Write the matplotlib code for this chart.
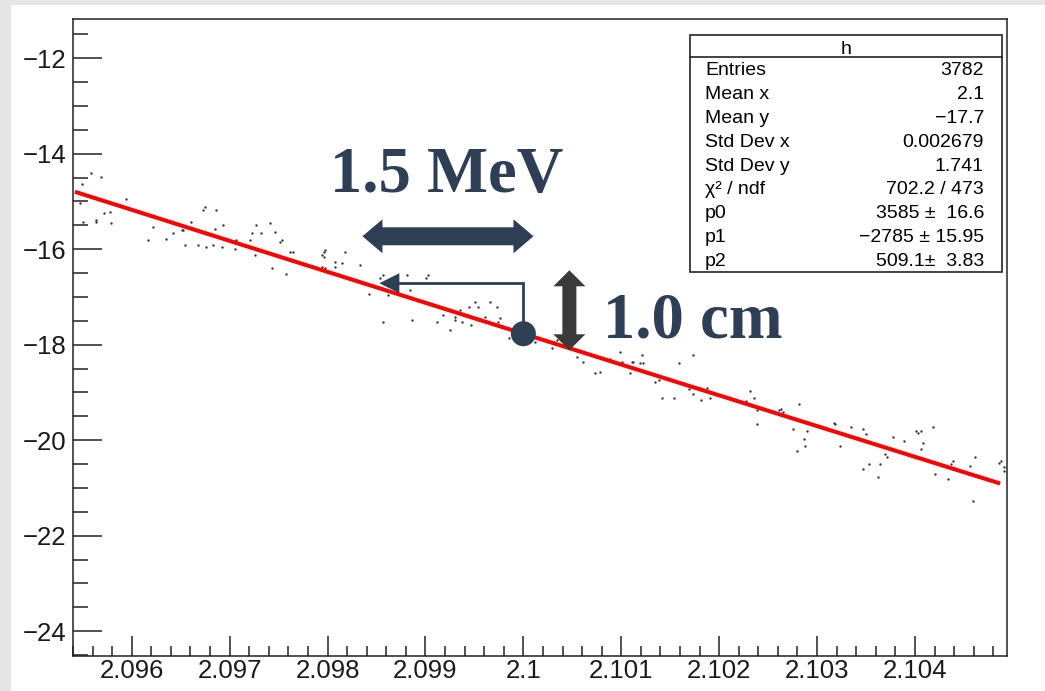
import numpy as np
import matplotlib
matplotlib.use("Agg")
import matplotlib.pyplot as plt
from matplotlib.patches import Polygon, Circle, Rectangle
from matplotlib.lines import Line2D
from matplotlib import transforms as mtransforms
from matplotlib.ticker import MultipleLocator, FixedLocator, FixedFormatter

plt.rcParams['font.family'] = ['Liberation Sans', 'DejaVu Sans']

# ---- scatter content of the 2D histogram "h" ----
x_points = [
    2.09558, 2.09569, 2.09549, 2.09547, 2.09550, 2.09564, 2.09564, 2.09572, 2.09578, 2.09579,
    2.09594, 2.09617, 2.09622, 2.09635, 2.09642, 2.09651, 2.09652, 2.09654, 2.09661, 2.09668,
    2.09673, 2.09675, 2.09686, 2.09675, 2.09676, 2.09683, 2.09685, 2.09692, 2.09693, 2.09705,
    2.09707, 2.09721, 2.09723, 2.09727, 2.09726, 2.09732, 2.09741, 2.09746, 2.09751, 2.09753,
    2.09743, 2.09758, 2.09762, 2.09765, 2.09794, 2.09796, 2.09797, 2.09796, 2.09794, 2.09797,
    2.09808, 2.09808, 2.09815, 2.09818, 2.09833, 2.09842, 2.09854, 2.09857, 2.09862, 2.09881,
    2.09884, 2.09901, 2.09903, 2.09857, 2.09886, 2.09912, 2.09918, 2.09925, 2.09930, 2.09930,
    2.09935, 2.09937, 2.09944, 2.09947, 2.09951, 2.09954, 2.09961, 2.09966, 2.09973, 2.09974,
    2.09976, 2.09985, 2.10009, 2.10012, 2.10031, 2.10034, 2.10029, 2.10055, 2.10061, 2.10073,
    2.10078, 2.10089, 2.10099, 2.10101, 2.10111, 2.10112, 2.10109, 2.10119, 2.10122, 2.10121,
    2.10134, 2.10139, 2.10142, 2.10154, 2.10159, 2.10173, 2.10169, 2.10173, 2.10180, 2.10181,
    2.10188, 2.10191, 2.10227, 2.10232, 2.10236, 2.10239, 2.10239, 2.10261, 2.10263, 2.10265,
    2.10275, 2.10282, 2.10287, 2.10288, 2.10280, 2.10290, 2.10317, 2.10318, 2.10335, 2.10323,
    2.10347, 2.10350, 2.10347, 2.10353, 2.10364, 2.10362, 2.10369, 2.10371, 2.10378, 2.10389,
    2.10401, 2.10403, 2.10406, 2.10408, 2.10406, 2.10418, 2.10420, 2.10434, 2.10437, 2.10439,
    2.10456, 2.10461, 2.10459, 2.10486, 2.10488, 2.10491, 2.10491,
]
y_points = [
    -14.41, -14.48, -14.64, -15.03, -15.43, -15.39, -15.43, -15.25, -15.22, -15.46,
    -14.94, -15.81, -15.53, -15.78, -15.67, -15.59, -15.59, -15.92, -15.43, -15.92,
    -15.18, -15.11, -15.18, -15.64, -15.95, -15.92, -15.57, -15.95, -15.50, -15.99,
    -15.81, -15.81, -15.67, -15.50, -16.13, -15.67, -15.46, -15.64, -15.85, -15.81,
    -16.40, -16.51, -16.06, -16.06, -16.13, -16.06, -16.02, -16.16, -16.37, -16.40,
    -16.27, -16.37, -16.30, -16.06, -16.33, -16.93, -16.61, -16.54, -16.96, -16.54,
    -16.86, -16.61, -16.54, -17.52, -17.49, -17.52, -17.38, -17.70, -17.49, -17.42,
    -17.28, -17.52, -17.21, -17.59, -17.10, -17.21, -17.42, -17.10, -17.21, -17.52,
    -17.45, -17.87, -17.73, -17.94, -17.94, -17.91, -18.08, -18.26, -18.36, -18.60,
    -18.57, -18.29, -18.15, -18.36, -18.36, -18.36, -18.60, -18.39, -18.39, -18.22,
    -18.78, -18.74, -19.11, -19.11, -18.39, -18.22, -18.92, -19.04, -18.90, -19.16,
    -18.90, -19.11, -19.18, -18.96, -19.11, -19.37, -19.66, -19.37, -19.34, -19.41,
    -19.77, -19.25, -19.98, -20.12, -20.22, -19.81, -19.64, -19.66, -19.73, -20.12,
    -19.77, -19.87, -20.61, -20.50, -20.50, -20.78, -20.29, -20.36, -19.94, -20.01,
    -19.81, -19.84, -19.81, -20.05, -20.19, -19.73, -20.71, -20.82, -20.50, -20.43,
    -20.54, -20.36, -21.27, -20.47, -20.43, -20.57, -20.64,
]

# ---- pol2 fit: y = p0 + p1*x + p2*x^2 ----
fit_params = [3585.3, -2784.9, 509.12]
fit_errors = [16.6, 15.95, 3.83]
fit_range = [2.09542, 2.10487]

# ---- statistics box ----
stats_title = "h"
stats_labels = ["Entries", "Mean x", "Mean y", "Std Dev x", "Std Dev y",
                "\u03c7\u00b2 / ndf", "p0", "p1", "p2"]
entries = 3782
mean_x = "2.1"
mean_y = "\u221217.7"
std_x = "0.002679"
std_y = "1.741"
chi2_ndf = "702.2 / 473"

# ---- axes ----
x_ticks = [2.096, 2.097, 2.098, 2.099, 2.100, 2.101, 2.102, 2.103, 2.104]
x_tick_labels = ["2.096", "2.097", "2.098", "2.099", "2.1", "2.101", "2.102", "2.103", "2.104"]
y_ticks = [-24, -22, -20, -18, -16, -14, -12]
y_tick_labels = ["\u221224", "\u221222", "\u221220", "\u221218", "\u221216", "\u221214", "\u221212"]
x_limits = [2.0954, 2.10494]
y_limits = [-24.52, -11.18]

# ---- annotation labels ----
energy_label = "1.5 MeV"
length_label = "1.0 cm"

NAVY = "#2e3e55"
GREY_ARROW = "#3a3a3a"
FRAME = "#222222"

W, H, DPI = 1045, 691, 100
fig = plt.figure(figsize=(W / DPI, H / DPI), dpi=DPI, facecolor="#e6e6e6")
fig.add_artist(Rectangle((11 / W, 0), 1, (H - 5) / H, transform=fig.transFigure,
                         facecolor="white", edgecolor="none", zorder=-10))

ax = fig.add_axes([73 / W, 1 - 656 / H, 934 / W, 637 / H])
ax.set_facecolor("white")

# histogram points
ax.plot(x_points, y_points, ls="none", marker="o", ms=1.7, mew=0,
        color="#333333", zorder=2)

# fitted curve
xs = np.linspace(fit_range[0], fit_range[1], 300)
ys = np.polyval(fit_params[::-1], xs)
ax.plot(xs, ys, color="#ff0000", lw=2.9, zorder=3, solid_capstyle="butt")

ax.set_xlim(*x_limits)
ax.set_ylim(*y_limits)

ax.xaxis.set_major_locator(FixedLocator(x_ticks))
ax.xaxis.set_major_formatter(FixedFormatter(x_tick_labels))
ax.yaxis.set_major_locator(FixedLocator(y_ticks))
ax.yaxis.set_major_formatter(FixedFormatter(y_tick_labels))
ax.xaxis.set_minor_locator(MultipleLocator(0.0002))
ax.yaxis.set_minor_locator(MultipleLocator(0.5))

ax.tick_params(which="both", direction="in", top=False, right=False,
               width=1.1, color=FRAME, labelcolor="#1a1a1a")
ax.tick_params(axis="y", which="major", length=21, pad=5, labelsize=18.5)
ax.tick_params(axis="y", which="minor", length=10.8)
ax.tick_params(axis="x", which="major", length=14.4, pad=2, labelsize=18.5)
ax.tick_params(axis="x", which="minor", length=7.2)
for sp in ax.spines.values():
    sp.set_linewidth(1.1)
    sp.set_color(FRAME)


def ax_y(py):
    return (656 - py) / 637


def ax_x(px):
    return (px - 73) / 934


# statistics box
bx0, bx1 = ax_x(690), ax_x(1002)
by0, by1 = ax_y(272), ax_y(35)
ax.add_patch(Rectangle((bx0, by0), bx1 - bx0, by1 - by0, transform=ax.transAxes,
                       facecolor="white", edgecolor=FRAME, lw=1.2, zorder=5))
ax.add_line(Line2D([bx0, bx1], [ax_y(57), ax_y(57)], transform=ax.transAxes,
                   color=FRAME, lw=1.2, zorder=6))
ax.text((bx0 + bx1) / 2, ax_y(54), stats_title, transform=ax.transAxes,
        ha="center", va="baseline", fontsize=14, zorder=7)


def minus(s):
    return s.replace("-", "\u2212")


p0, p1, p2 = fit_params
e0, e1, e2 = fit_errors
stats_values = [
    f"{entries}", mean_x, mean_y, std_x, std_y, chi2_ndf,
    minus(f"{p0:.0f} \u00b1 {e0:5.1f}"),
    minus(f"{p1:.0f} \u00b1 {e1:5.2f}"),
    minus(f"{p2:.1f}\u00b1 {e2:5.2f}"),
]
for i, (lab, val) in enumerate(zip(stats_labels, stats_values)):
    yb = ax_y(75 + 23.9 * i)
    ax.text(ax_x(705), yb, lab, transform=ax.transAxes, ha="left", va="baseline",
            fontsize=14, zorder=7)
    ax.text(ax_x(984), yb, val, transform=ax.transAxes, ha="right", va="baseline",
            fontsize=14, zorder=7)


# annotation shapes, sized in pixels around a data anchor
def anchored(x, y):
    return fig.dpi_scale_trans + mtransforms.ScaledTranslation(x, y, ax.transData)


def px(v):
    return np.asarray(v, dtype=float) / DPI


def double_arrow(length, shaft_half, head_half, head_len, vertical=False):
    L = length / 2
    pts = [(-L, 0), (-L + head_len, head_half), (-L + head_len, shaft_half),
           (L - head_len, shaft_half), (L - head_len, head_half), (L, 0),
           (L - head_len, -head_half), (L - head_len, -shaft_half),
           (-L + head_len, -shaft_half), (-L + head_len, -head_half)]
    pts = np.array(pts)
    if vertical:
        pts = pts[:, ::-1]
    return px(pts)


# horizontal energy arrow
ax.add_patch(Polygon(double_arrow(171, 9, 17, 20),
                     transform=anchored(2.09923, -15.73),
                     facecolor=NAVY, edgecolor="none", zorder=6))
ax.text(2.09922, -14.81, energy_label, ha="center", va="baseline",
        fontsize=46.5, fontweight="bold", family="Liberation Serif", color=NAVY, zorder=6)

# vertical length arrow
ax.add_patch(Polygon(double_arrow(80, 7, 16, 16, vertical=True),
                     transform=anchored(2.10047, -17.28),
                     facecolor=GREY_ARROW, edgecolor="none", zorder=6))
ax.text(2.101729, -17.843, length_label, ha="center", va="baseline",
        fontsize=46.5, fontweight="bold", family="Liberation Serif", color=NAVY, zorder=6)

# marker on the fit at x = 2.1 with a pointer back along the curve
mx = 2.1
my = np.polyval(fit_params[::-1], mx)
tr = anchored(mx, my)
ax.add_line(Line2D(px([0, 0, -124]), px([0, 50.5, 50.5]), transform=tr,
                   color=NAVY, lw=2.0, zorder=6, solid_joinstyle="miter"))
ax.add_patch(Polygon(px([[-144, 50.5], [-124, 60.5], [-124, 40.5]]), transform=tr,
                     facecolor=NAVY, edgecolor="none", zorder=6))
ax.add_patch(Circle((0, 0), px(12.5), transform=tr, facecolor=NAVY,
                    edgecolor="none", zorder=7))

fig.savefig("out.png", dpi=DPI, facecolor=fig.get_facecolor())
